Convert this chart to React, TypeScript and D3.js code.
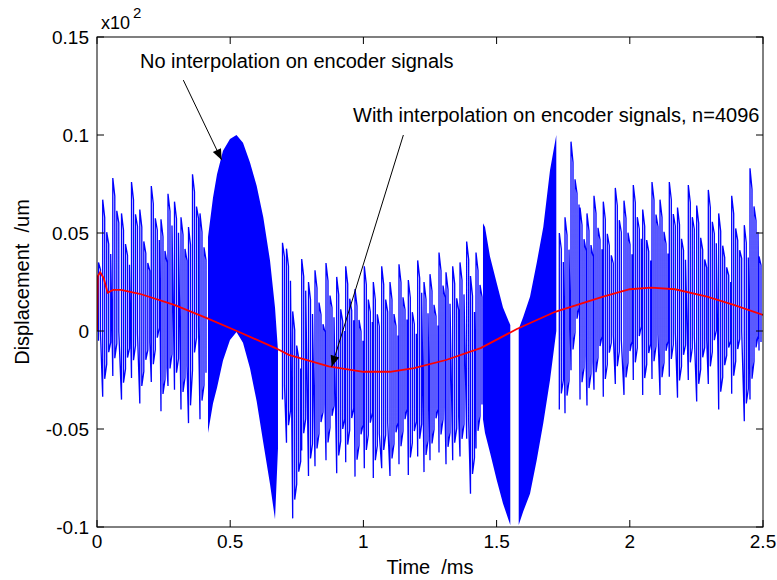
import React from "react";
import * as d3 from "d3";

// Figure geometry
const W = 777;
const H = 580;
const PLOT = { left: 97, right: 763, top: 37, bottom: 527 };

// Axis ticks
const xTicks = [0, 0.5, 1, 1.5, 2, 2.5];
const xTickLabels = ["0", "0.5", "1", "1.5", "2", "2.5"];
const yTicks = [-0.1, -0.05, 0, 0.05, 0.1, 0.15];
const yTickLabels = ["-0.1", "-0.05", "0", "0.05", "0.1", "0.15"];

// Displacement error with interpolation (n=4096), red trace
const redT = [0, 0.003, 0.012, 0.025, 0.04, 0.06, 0.09, 0.16, 0.29, 0.41, 0.525, 0.67, 0.72, 0.87, 1.0, 1.1, 1.19, 1.31, 1.44, 1.576, 1.72, 1.9, 2.0, 2.08, 2.17, 2.29, 2.39, 2.5];
const redV = [0, 0.028, 0.03, 0.027, 0.0195, 0.021, 0.021, 0.019, 0.0133, 0.0067, 0.0, -0.0087, -0.0122, -0.018, -0.0208, -0.0208, -0.019, -0.0148, -0.0087, 0.001, 0.0098, 0.0175, 0.0213, 0.0221, 0.0213, 0.0175, 0.0133, 0.0082];

// Without interpolation: encoder-edge jumps (time, top, bottom of each jump)
const kickT = [
  0.0056, 0.0214, 0.0593, 0.092, 0.1295, 0.1607, 0.2038, 0.2402, 0.2665, 0.2909, 0.3153, 0.3435, 0.3585, 0.3866,
  0.6963, 0.7113, 0.7346, 0.7684, 0.7939, 0.8183, 0.8596, 0.8998, 0.9336, 0.9685, 1.0034, 1.0372, 1.0687, 1.0998, 1.1336, 1.1686, 1.2038, 1.2275, 1.25, 1.2838, 1.3101, 1.3352, 1.3626, 1.3877, 1.402, 1.4227,
  1.7354, 1.7568, 1.7793, 1.8131, 1.8393, 1.8656, 1.9005, 1.9456, 1.9782, 2.0131, 2.0484, 2.0833, 2.1134, 2.1483, 2.1791, 2.2196, 2.2511, 2.2947, 2.3337, 2.3825, 2.4298, 2.4512, 2.485,
];
const kickHi = [
  0.035, 0.067, 0.078, 0.06, 0.076, 0.062, 0.074, 0.057, 0.07, 0.066, 0.058, 0.053, 0.08, 0.06,
  0.045, 0.042, 0.01, 0.0367, 0.025, 0.031, 0.0347, 0.0276, 0.033, 0.0214, 0.033, 0.025, 0.033, 0.025, 0.034, 0.026, 0.036, 0.025, 0.029, 0.04, 0.03, 0.033, 0.035, 0.0456, 0.028, 0.04,
  0.05, 0.058, 0.0966, 0.063, 0.06, 0.069, 0.066, 0.073, 0.0665, 0.0745, 0.062, 0.076, 0.067, 0.076, 0.063, 0.0745, 0.064, 0.072, 0.06, 0.069, 0.054, 0.083, 0.038,
];
const kickLo = [
  -0.005, -0.0335, -0.023, -0.035, -0.024, -0.037, -0.026, -0.041, -0.028, -0.03, -0.04, -0.047, -0.02, -0.045,
  -0.035, -0.057, -0.0956, -0.061, -0.074, -0.069, -0.066, -0.0726, -0.067, -0.0743, -0.07, -0.075, -0.07, -0.074, -0.068, -0.0735, -0.064, -0.072, -0.066, -0.062, -0.068, -0.066, -0.064, -0.055, -0.083, -0.06,
  -0.04, -0.042, -0.02, -0.035, -0.038, -0.03, -0.0335, -0.027, -0.0326, -0.025, -0.0326, -0.0245, -0.0326, -0.0233, -0.034, -0.025, -0.036, -0.027, -0.04, -0.032, -0.046, -0.035, -0.01,
];
// Time spans where the edges are resolved one by one
const sparseStart = [0, 0.6963, 1.7241];
const sparseEnd = [0.4167, 1.4489, 2.5];

// Time spans where edges come too fast to resolve: band envelopes
const denseT1 = [0.4167, 0.4354, 0.4505, 0.473, 0.4992, 0.5236, 0.548, 0.5743, 0.5995, 0.6242, 0.6494, 0.6682, 0.6794];
const denseHi1 = [0.048, 0.068, 0.08, 0.092, 0.098, 0.1, 0.096, 0.086, 0.074, 0.058, 0.036, 0.012, -0.01];
const denseLo1 = [-0.052, -0.037, -0.029, -0.015, -0.0046, -0.0005, -0.006, -0.019, -0.036, -0.057, -0.078, -0.096, -0.06];
const denseT2 = [1.4489, 1.4565, 1.4752, 1.5004, 1.524, 1.5514];
const denseHi2 = [0.055, 0.053, 0.038, 0.0245, 0.012, 0.003];
const denseLo2 = [-0.045, -0.052, -0.062, -0.076, -0.088, -0.099];
const denseT3 = [1.583, 1.6002, 1.6254, 1.6505, 1.6753, 1.7005, 1.7241];
const denseHi3 = [0.001, 0.0073, 0.0175, 0.0347, 0.053, 0.082, 0.1];
const denseLo3 = [-0.099, -0.092, -0.083, -0.066, -0.047, -0.025, 0.0];

const FONT = "'Liberation Sans', Arial, Helvetica, sans-serif";
const RING_STEP = 2; // px between ringing columns
const RING_TAU = 10; // px decay constant of ringing

export default function App() {
  const x = d3.scaleLinear().domain([0, 2.5]).range([PLOT.left, PLOT.right]);
  const y = d3.scaleLinear().domain([-0.1, 0.15]).range([PLOT.bottom, PLOT.top]);

  // each edge: a full jump, then columns that shrink towards the local mean
  const ringPaths = sparseStart.map((start, r) => {
    const end = sparseEnd[r];
    const idx = kickT.map((_, i) => i).filter((i) => kickT[i] >= start && kickT[i] < end);
    const pts: [number, number][] = [];
    idx.forEach((i, j) => {
      const tNext = j + 1 < idx.length ? kickT[idx[j + 1]] : end;
      const x0 = x(kickT[i]);
      const x1 = x(tNext);
      const c = (kickHi[i] + kickLo[i]) / 2;
      const a = (kickHi[i] - kickLo[i]) / 2;
      pts.push([x0, y(kickLo[i])], [x0, y(kickHi[i])]);
      let up = true;
      for (let k = 1; x0 + k * RING_STEP < x1 - 0.8; k++) {
        const amp = a * Math.exp((-k * RING_STEP) / RING_TAU);
        const xc = x0 + k * RING_STEP;
        if (up) pts.push([xc, y(c + amp)], [xc, y(c - amp)]);
        else pts.push([xc, y(c - amp)], [xc, y(c + amp)]);
        up = !up;
      }
    });
    return d3.line()(pts) || "";
  });

  const band = (ts: number[], hi: number[], lo: number[]) =>
    d3
      .area<number>()
      .x((_, i) => x(ts[i]))
      .y0((_, i) => y(lo[i]))
      .y1((_, i) => y(hi[i]))(ts) || "";

  const redPath =
    d3
      .line<number>()
      .x((_, i) => x(redT[i]))
      .y((_, i) => y(redV[i]))(redT) || "";

  const tickLen = 7;

  // annotation arrows, in data coordinates
  const arrows = [
    { from: [0.324, 0.128], to: [0.468, 0.0872] },
    { from: [1.15, 0.1], to: [0.881, -0.0182] },
  ];

  const arrowHead = (from: number[], to: number[]) => {
    const x1 = x(from[0]), y1 = y(from[1]);
    const x2 = x(to[0]), y2 = y(to[1]);
    const ang = Math.atan2(y2 - y1, x2 - x1);
    const L = 11, Wd = 4.5;
    const bx = x2 - L * Math.cos(ang), by = y2 - L * Math.sin(ang);
    const p1 = [bx + Wd * Math.sin(ang), by - Wd * Math.cos(ang)];
    const p2 = [bx - Wd * Math.sin(ang), by + Wd * Math.cos(ang)];
    return `M${x2},${y2}L${p1[0]},${p1[1]}L${p2[0]},${p2[1]}Z`;
  };

  return (
    <svg width={W} height={H} style={{ display: "block", position: "absolute", left: 0, top: 0, background: "#fff" }} fontFamily={FONT}>
      <rect x={0} y={0} width={W} height={H} fill="#fff" />
      <defs>
        <clipPath id="plotArea">
          <rect x={PLOT.left} y={PLOT.top} width={PLOT.right - PLOT.left} height={PLOT.bottom - PLOT.top} />
        </clipPath>
      </defs>

      <g clipPath="url(#plotArea)">
        {ringPaths.map((d, i) => (
          <path key={i} d={d} fill="none" stroke="#0000ff" strokeWidth={1.3} />
        ))}
        <path d={band(denseT1, denseHi1, denseLo1)} fill="#0000ff" />
        <path d={band(denseT2, denseHi2, denseLo2)} fill="#0000ff" />
        <path d={band(denseT3, denseHi3, denseLo3)} fill="#0000ff" />
        <path d={redPath} fill="none" stroke="#ff0000" strokeWidth={1.8} />
      </g>

      {/* axes box */}
      <rect x={PLOT.left} y={PLOT.top} width={PLOT.right - PLOT.left} height={PLOT.bottom - PLOT.top} fill="none" stroke="#000" strokeWidth={1} />

      {xTicks.map((t, i) => (
        <g key={"x" + i}>
          <line x1={x(t)} x2={x(t)} y1={PLOT.bottom} y2={PLOT.bottom - tickLen} stroke="#000" />
          <line x1={x(t)} x2={x(t)} y1={PLOT.top} y2={PLOT.top + tickLen} stroke="#000" />
          <text x={x(t)} y={PLOT.bottom + 21} fontSize={19} textAnchor="middle" fill="#000">
            {xTickLabels[i]}
          </text>
        </g>
      ))}
      {yTicks.map((v, i) => (
        <g key={"y" + i}>
          <line x1={PLOT.left} x2={PLOT.left + tickLen} y1={y(v)} y2={y(v)} stroke="#000" />
          <line x1={PLOT.right} x2={PLOT.right - tickLen} y1={y(v)} y2={y(v)} stroke="#000" />
          <text x={PLOT.left - 8} y={y(v) + 7} fontSize={19} textAnchor="end" fill="#000">
            {yTickLabels[i]}
          </text>
        </g>
      ))}

      {/* exponent */}
      <text x={PLOT.left + 4} y={29} fontSize={18} fill="#000">x10</text>
      <text x={PLOT.left + 36} y={18} fontSize={15} fill="#000">2</text>

      {/* axis labels */}
      <text x={(PLOT.left + PLOT.right) / 2} y={574} fontSize={20} textAnchor="middle" fill="#000" style={{ whiteSpace: "pre" }}>
        {"Time  /ms"}
      </text>
      <text transform={`translate(29, ${(PLOT.top + PLOT.bottom) / 2}) rotate(-90)`} fontSize={20} textAnchor="middle" fill="#000" style={{ whiteSpace: "pre" }}>
        {"Displacement  /um"}
      </text>

      {/* annotations */}
      <text x={x(0.1614)} y={y(0.134)} fontSize={20} fill="#000">No interpolation on encoder signals</text>
      <text x={x(0.961)} y={y(0.1066)} fontSize={20} fill="#000">With interpolation on encoder signals, n=4096</text>
      {arrows.map((a, i) => (
        <g key={"a" + i}>
          <line x1={x(a.from[0])} y1={y(a.from[1])} x2={x(a.to[0])} y2={y(a.to[1])} stroke="#000" strokeWidth={1} />
          <path d={arrowHead(a.from, a.to)} fill="#000" />
        </g>
      ))}
    </svg>
  );
}
